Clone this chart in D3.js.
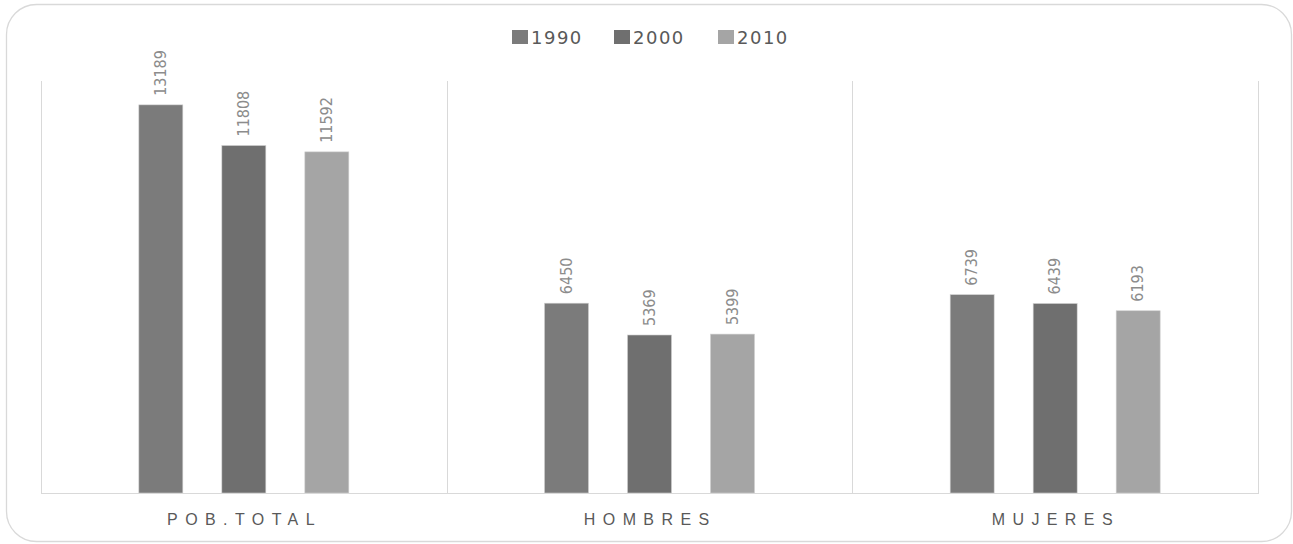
<!DOCTYPE html>
<html><head><meta charset="utf-8">
<script src="https://cdn.jsdelivr.net/npm/d3@7"></script>
<style>html,body{margin:0;padding:0;background:#fff;}</style>
</head><body>
<svg id="chart" width="1293" height="544"></svg>
<script>
const categories = ["POB.TOTAL", "HOMBRES", "MUJERES"];
const seriesNames = ["1990", "2000", "2010"];
const values1990 = [13189, 6450, 6739];
const values2000 = [11808, 5369, 6439];
const values2010 = [11592, 5399, 6193];
const seriesValues = [values1990, values2000, values2010];
const colors = ["#7b7b7b", "#6f6f6f", "#a5a5a5"];

const svg = d3.select("#chart");
svg.append("rect").attr("x", 6.5).attr("y", 4.5).attr("width", 1285).attr("height", 537)
  .attr("rx", 30).attr("fill", "#fff").attr("stroke", "#d9d9d9").attr("stroke-width", 1.3);

const plot = {left: 41, right: 1258, top: 81, bottom: 493};
const x = d3.scaleBand().domain(categories).range([plot.left, plot.right]);
const half = 124.5;
const xs = d3.scaleBand().domain(seriesNames)
  .range([x.bandwidth()/2 - half, x.bandwidth()/2 + half]).paddingInner(0.47).paddingOuter(0.235);
const y = d3.scaleLinear().domain([0, 14000]).range([plot.bottom, plot.top]);

// vertical separators
const seps = categories.map(c => x(c)).concat([plot.right]);
svg.selectAll("line.sep").data(seps).enter().append("line")
  .attr("x1", d => Math.round(d) + 0.5).attr("x2", d => Math.round(d) + 0.5).attr("y1", plot.top).attr("y2", plot.bottom)
  .attr("stroke", "#d9d9d9").attr("stroke-width", 1);

const data = [];
categories.forEach((c, i) => seriesNames.forEach((s, j) => data.push({c, s, j, v: seriesValues[j][i]})));

svg.selectAll("rect.bar").data(data).enter().append("rect")
  .attr("x", d => x(d.c) + xs(d.s)).attr("width", xs.bandwidth())
  .attr("y", d => y(d.v)).attr("height", d => y(0) - y(d.v))
  .attr("fill", d => colors[d.j]).attr("stroke", "#d0d0d0").attr("stroke-width", 0.6);

svg.selectAll("text.lbl").data(data).enter().append("text")
  .attr("transform", d => `translate(${x(d.c) + xs(d.s) + xs.bandwidth()/2 + 5},${y(d.v) - 9}) rotate(-90)`)
  .attr("text-anchor", "start")
  .attr("font-family", "'DejaVu Sans Condensed', 'Liberation Sans Narrow', sans-serif")
  .attr("font-size", 16).attr("fill", "#8c8c8c")
  .text(d => d.v);

// x axis line
svg.append("line").attr("x1", plot.left).attr("x2", plot.right + 1).attr("y1", plot.bottom + 0.5).attr("y2", plot.bottom + 0.5)
  .attr("stroke", "#d9d9d9").attr("stroke-width", 1);

svg.selectAll("text.cat").data(categories).enter().append("text")
  .attr("x", d => x(d) + x.bandwidth()/2 + 0.7).attr("y", 525)
  .attr("text-anchor", "middle")
  .attr("font-family", "'Liberation Sans', Arial, sans-serif")
  .attr("font-size", 16).attr("letter-spacing", 7.4).attr("fill", "#595959")
  .text(d => d);

// legend
const legX = [512, 614, 718];
const leg = svg.selectAll("g.leg").data(seriesNames).enter().append("g")
  .attr("transform", (d, i) => `translate(${legX[i]},30)`);
leg.append("rect").attr("width", 16).attr("height", 14).attr("fill", (d, i) => colors[i]);
leg.append("text").attr("x", 19).attr("y", 14)
  .attr("font-family", "'DejaVu Sans', Verdana, sans-serif").attr("font-size", 18).attr("letter-spacing", 1.5).attr("fill", "#595959")
  .text(d => d);
</script>
</body></html>
